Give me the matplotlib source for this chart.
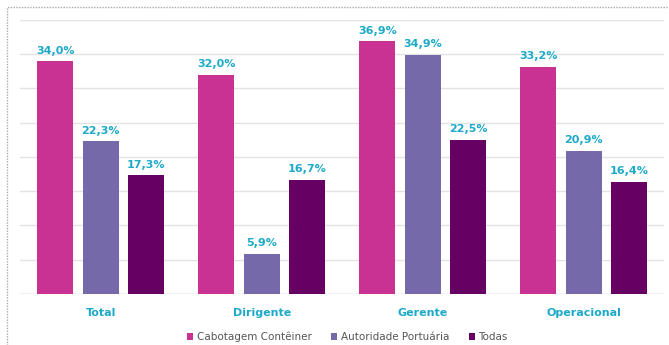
#Grouped bar chart: Cabotagem Conteiner vs Autoridade Portuaria vs Todas

import numpy as np
from matplotlib import pyplot as plt
from matplotlib.patches import Rectangle

##data##
categories = ['Total', 'Dirigente', 'Gerente', 'Operacional']
series_names = ['Cabotagem Contêiner', 'Autoridade Portuária', 'Todas']
cabotagem = [34.0, 32.0, 36.9, 33.2]
autoridade = [22.3, 5.9, 34.9, 20.9]
todas = [17.3, 16.7, 22.5, 16.4]

colors = ['#C93192', '#7569A9', '#660063']
label_color = '#1DAAC8'


def fmt(v):
    '''percent with comma decimal'''
    return f"{v:.1f}%".replace('.', ',')


def main():
    fig = plt.figure(figsize=(6.69, 3.45), dpi=100)
    ax = fig.add_axes([0.03, 0.148, 0.963, 0.794])

    x = np.arange(len(categories))
    w = 0.224
    step = 0.282
    all_series = [cabotagem, autoridade, todas]

    for i, vals in enumerate(all_series):
        pos = x + (i - 1) * step
        bars = ax.bar(pos, vals, width=w, color=colors[i], label=series_names[i],
                      zorder=3, edgecolor='none')
        for b, v in zip(bars, vals):
            ax.text(b.get_x() + b.get_width() / 2, v + 0.8, fmt(v), ha='center', va='bottom',
                    color=label_color, fontsize=8, fontweight='bold')

    ax.set_ylim(0, 40)
    ax.set_xlim(-0.5, 3.5)
    ax.set_yticks(np.arange(0, 41, 5))
    ax.yaxis.grid(True, color='#E3E3E3', linewidth=1, zorder=0)
    ax.tick_params(axis='both', length=0)
    ax.set_yticklabels([])
    ax.set_xticks(x)
    ax.set_xticklabels(categories, color=label_color, fontweight='bold', fontsize=8)
    ax.tick_params(axis='x', pad=10)
    for s in ax.spines.values():
        s.set_visible(False)
    ax.axhline(0, color='#DADADA', linewidth=1, zorder=2)

    leg = ax.legend(loc='center', bbox_to_anchor=(0.508, -0.157), ncol=3, frameon=False,
                    fontsize=7.5, handlelength=0.6, handleheight=0.6, handletextpad=0.3,
                    columnspacing=1.9, borderpad=0)
    for t in leg.get_texts():
        t.set_color('#555555')

    #dotted frame around the chart (cropped at right and bottom)
    fig.patches.append(Rectangle((7 / 669, -0.1), 1.2, 1 - 7 / 345 + 0.1, transform=fig.transFigure,
                                 fill=False, edgecolor='#AAAAAA', linestyle=(0, (1, 1)), linewidth=1))

    fig.savefig("out.png", dpi=100)


main()
